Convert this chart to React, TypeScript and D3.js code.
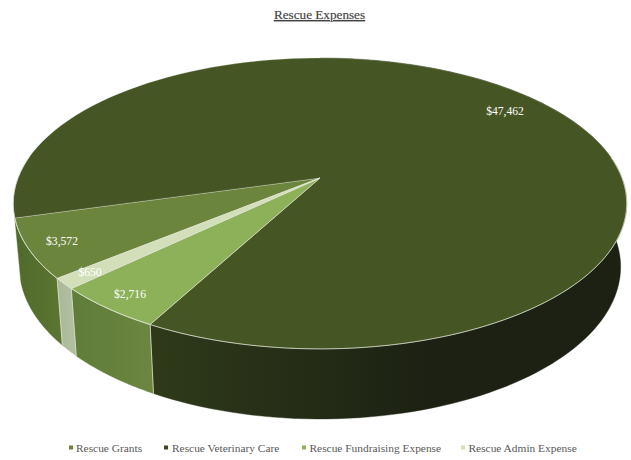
import React from "react";
import * as d3 from "d3";

const categories = ["Rescue Grants", "Rescue Veterinary Care", "Rescue Fundraising Expense", "Rescue Admin Expense"];
const values = [3572, 47462, 2716, 650];
const labels = ["$3,572", "$47,462", "$2,716", "$650"];
const topColors = ["#6b853c", "#465524", "#8db159", "#d2dfb8"];
const wallLeft = ["#4f6a2a", "#2f3a1a", "#5f7c39", "#a9b896"];
const wallRight = ["#5a7431", "#1c2113", "#6a8640", "#b0bf9e"];
const legendColors = ["#6b853c", "#3a4a1e", "#8db159", "#d2dfb8"];
const legendSwatchX = [69, 164, 302, 461];
const legendTextX = [76, 172, 309.5, 468.5];
const labelPos: [number, number][] = [[62, 245], [505, 115], [130, 298], [90, 276]];

const W = 631, H = 460;
const CX = 320, AY = 178, R = 302, S = 141, K = 0.175;
const BR = 296, BS = 147.4, BAY = 240.3;
const startDeg = 230.7;
const TAU = 2 * Math.PI;

const proj = (a: number, r: number, s: number, ay: number): [number, number] => {
  const u = Math.sin(a), v = -Math.cos(a), w = 1 - K * v;
  return [CX + (r * u) / w, ay + (s * v) / w];
};

const pie = d3.pie<number>().sort(null)
  .startAngle((startDeg * Math.PI) / 180)
  .endAngle((startDeg * Math.PI) / 180 + TAU);
const arcs = pie(values);
const line = d3.line();

const samples = (a0: number, a1: number) => d3.range(0, 121).map((i) => a0 + ((a1 - a0) * i) / 120);

export default function App() {
  const walls = arcs.map((d) => {
    // A wall that runs over the back of the pie is only built from the back centre on.
    const from = d.startAngle < TAU && d.endAngle > TAU ? TAU : d.startAngle;
    const ss = samples(from, d.endAngle);
    const top = ss.map((a) => proj(a, R, S, AY));
    const bot = ss.map((a) => proj(a, BR, BS, BAY));
    return { top, path: line([...top, ...bot.slice().reverse()])! + "Z" };
  });
  const faces = arcs.map((d) => {
    const ss = samples(d.startAngle, d.endAngle);
    return line([[CX, AY], ...ss.map((a) => proj(a, R, S, AY))])! + "Z";
  });
  const seams = arcs.map((d) => d.endAngle).filter((a) => Math.cos(a) < 0 && a > TAU)
    .map((a) => line([proj(a, R, S, AY), proj(a, BR, BS, BAY)])!);
  const frontEdge = line(samples(TAU + Math.PI / 2 - 0.15, TAU + (3 * Math.PI) / 2 + 0.15 - TAU + TAU).map((a) => proj(a, R, S, AY)))!;
  return (
    <svg width={W} height={H} viewBox={`0 0 ${W} ${H}`}
      style={{ position: "absolute", left: 0, top: 0, fontFamily: "'Liberation Serif', serif" }}>
      <defs>
        {wallLeft.map((c, i) => {
          const xs = d3.extent(walls[i].top.filter((p) => p[1] > 200).map((p) => p[0])) as [number, number];
          return (
            <linearGradient key={i} id={`w${i}`} gradientUnits="userSpaceOnUse"
              x1={xs[0]} x2={Math.min(xs[1], xs[0] + 280)} y1={0} y2={0}>
              <stop offset="0" stopColor={c} />
              <stop offset="1" stopColor={wallRight[i]} />
            </linearGradient>
          );
        })}
      </defs>
      <rect width={W} height={H} fill="#fff" />
      <text x={319.5} y={19} textAnchor="middle" fontSize={13.2} fill="#404040" stroke="#595959" strokeWidth={0.2}
        textDecoration="underline">Rescue Expenses</text>
      {walls.map((w, i) => <path key={i} d={w.path} fill={`url(#w${i})`} stroke={`url(#w${i})`} strokeWidth={0.4} />)}
      {seams.map((d, i) => <path key={i} d={d} stroke="#d9dccf" strokeWidth={0.8} fill="none" />)}
      {faces.map((d, i) => <path key={i} d={d} fill={topColors[i]} stroke="#dfe3d4" strokeWidth={i === 1 ? 0.25 : 0.7} strokeLinejoin="round" />)}
      <path d={frontEdge} fill="none" stroke="#dfe3d4" strokeWidth={0.7} />
      {labels.map((t, i) => (
        <text key={i} x={labelPos[i][0]} y={labelPos[i][1]} textAnchor="middle" fontSize={11.6} fill="#fff">{t}</text>
      ))}
      {categories.map((c, i) => (
        <g key={c}>
          <rect x={legendSwatchX[i]} y={445.5} width={4} height={4} fill={legendColors[i]} />
          <text x={legendTextX[i]} y={451.5} fontSize={11.4} fill="#595959">{c}</text>
        </g>
      ))}
    </svg>
  );
}
